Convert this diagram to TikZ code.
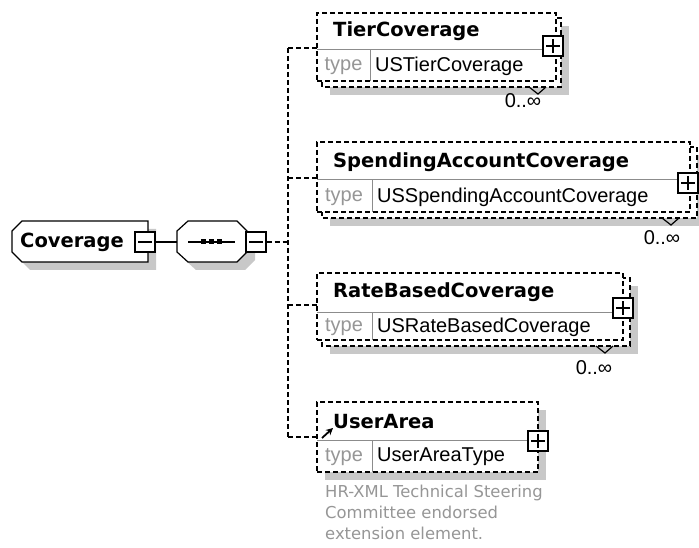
\documentclass[tikz,border=0pt]{standalone}
\usepackage{fontspec}
\setmainfont{DejaVu Sans}
\newfontfamily\arialf{Liberation Sans}
\usetikzlibrary{arrows.meta,calc}
\definecolor{shd}{RGB}{200,200,200}
\definecolor{txtg}{RGB}{150,150,150}
\definecolor{lng}{RGB}{140,140,140}
\begin{document}
\begin{tikzpicture}[x=1pt,y=-1pt,
  ebox/.style={draw=black, line width=1.2pt, dash pattern=on 5pt off 3pt, fill=white, inner sep=0pt, outer sep=0pt, anchor=north west},
  bbox/.style={draw=black, line width=1.2pt, dash pattern=on 5pt off 3pt, fill=white},
  solidbox/.style={draw=black, line width=1.2pt, fill=white},
  ttl/.style={anchor=west, font=\fontsize{19.5}{22}\selectfont\bfseries, inner sep=0pt},
  typel/.style={font=\arialf\fontsize{20}{22}\selectfont, text=txtg, inner sep=0pt},
  typev/.style={anchor=west, font=\arialf\fontsize{20}{22}\selectfont, inner sep=0pt},
  sepl/.style={draw=lng, line width=1pt},
  pm/.style={draw=black, line width=1.2pt, fill=white, minimum size=20pt, inner sep=0pt},
  pmline/.style={line width=1.2pt},
  occ/.style={font=\arialf\fontsize{20}{22}\selectfont, inner sep=0pt},
  conn/.style={line width=1.2pt, dash pattern=on 5pt off 3pt},
  sconn/.style={line width=1.2pt},
  chev/.style={line width=1.2pt},
]
\useasboundingbox (0,0) rectangle (699,548);

% ---------- Coverage element ----------
\fill[shd] (30,229) -- (156,229) -- (156,270) -- (30,270) -- (20,260) -- (20,239) -- cycle;
\draw[solidbox] (22,221) -- (148,221) -- (148,262) -- (22,262) -- (12,252) -- (12,231) -- cycle;
\node[ttl] (covT) at (20,242) {Coverage};
\node[pm] (covM) at (145,242) {};
\draw[pmline] ($(covM)+(-7,0)$) -- ($(covM)+(7,0)$);

% ---------- sequence compositor ----------
\fill[shd] (196,229) -- (245,229) -- (255,239) -- (255,260) -- (245,270) -- (196,270) -- (185,260) -- (185,239) -- cycle;
\draw[solidbox] (188,221) -- (237,221) -- (247,231) -- (247,252) -- (237,262) -- (188,262) -- (177,252) -- (177,231) -- cycle;
\coordinate (seqW) at (177,242);
\coordinate (seqA) at (188,242);
\coordinate (seqB) at (235,242);
\draw[sconn] (seqA) -- (seqB);
\foreach \xx in {203,211,219} \fill (\xx-2.5,239.5) rectangle (\xx+2.5,244.5);
\node[pm] (seqM) at (256,242) {};
\draw[pmline] ($(seqM)+(-7,0)$) -- ($(seqM)+(7,0)$);
\draw[sconn] (covM.east) -- (seqW);

% ---------- bus ----------
\coordinate (bus) at (288,242);
\coordinate (jT) at (288,48);
\coordinate (jS) at (288,178);
\coordinate (jR) at (288,305);
\coordinate (jU) at (288,437);
\draw[conn] (seqM.east) -- (bus);
\draw[conn] (jT) -- (jU);

% ---------- TierCoverage ----------
\fill[shd] (330,26) rectangle (569,95);
\draw[bbox] (322,18) rectangle (561,87);
\node[ebox, minimum width=239pt, minimum height=68pt] (tier) at (317,13) {};
\draw[sepl] (317,50) -- (556,50);
\draw[sepl] (370,50) -- (370,81);
\node[ttl] (tierT) at (333,31) {TierCoverage};
\node[typel] (tierL) at (343.5,66) {type};
\node[typev] (tierV) at (375,66) {USTierCoverage};
\node[pm] (tierP) at (553,46) {};
\draw[pmline] ($(tierP)+(-7,0)$) -- ($(tierP)+(7,0)$);
\draw[pmline] ($(tierP)+(0,-7)$) -- ($(tierP)+(0,7)$);
\draw[chev] (529,87) -- (538,94) -- (546,87);
\node[occ] (tierO) at (523,101) {0..∞};
\draw[conn] (jT) -- (jT -| tier.west);

% ---------- SpendingAccountCoverage ----------
\fill[shd] (330,155) rectangle (705,226);
\draw[bbox] (322,147) rectangle (697,218);
\node[ebox, minimum width=373pt, minimum height=70pt] (spend) at (317,142) {};
\draw[sepl] (317,180) -- (690,180);
\draw[sepl] (372,180) -- (372,212);
\node[ttl] (spendT) at (333,162) {SpendingAccountCoverage};
\node[typel] (spendL) at (344,197) {type};
\node[typev] (spendV) at (377,197) {USSpendingAccountCoverage};
\node[pm] (spendP) at (688,183) {};
\draw[pmline] ($(spendP)+(-7,0)$) -- ($(spendP)+(7,0)$);
\draw[pmline] ($(spendP)+(0,-7)$) -- ($(spendP)+(0,7)$);
\draw[chev] (662,218) -- (671,225) -- (679,218);
\node[occ] (spendO) at (662,238) {0..∞};
\draw[conn] (jS) -- (jS -| spend.west);

% ---------- RateBasedCoverage ----------
\fill[shd] (330,286) rectangle (638,354);
\draw[bbox] (322,278) rectangle (630,346);
\node[ebox, minimum width=306pt, minimum height=67pt] (rate) at (317,273) {};
\draw[sepl] (317,312) -- (623,312);
\draw[sepl] (372,312) -- (372,340);
\node[ttl] (rateT) at (333,292) {RateBasedCoverage};
\node[typel] (rateL) at (344,327) {type};
\node[typev] (rateV) at (377,327) {USRateBasedCoverage};
\node[pm] (rateP) at (623,308) {};
\draw[pmline] ($(rateP)+(-7,0)$) -- ($(rateP)+(7,0)$);
\draw[pmline] ($(rateP)+(0,-7)$) -- ($(rateP)+(0,7)$);
\draw[chev] (596,346) -- (605,353) -- (613,346);
\node[occ] (rateO) at (594,368) {0..∞};
\draw[conn] (jR) -- (jR -| rate.west);

% ---------- UserArea ----------
\fill[shd] (325,410) rectangle (546,480);
\node[ebox, minimum width=221pt, minimum height=70pt] (ua) at (317,402) {};
\draw[sepl] (317,440) -- (538,440);
\draw[sepl] (372,440) -- (372,472);
\node[ttl] (uaT) at (333,422) {UserArea};
\node[typel] (uaL) at (344,457) {type};
\node[typev] (uaV) at (377,457) {UserAreaType};
\node[pm] (uaP) at (538,441) {};
\draw[pmline] ($(uaP)+(-7,0)$) -- ($(uaP)+(7,0)$);
\draw[pmline] ($(uaP)+(0,-7)$) -- ($(uaP)+(0,7)$);
\draw[conn] (jU) -- (jU -| ua.west);
\coordinate (refA) at (322,438);
\coordinate (refB) at (333,428);
\draw[line width=1.8pt, -{Stealth[length=7pt,width=7pt]}] (refA) -- (refB);
\node[anchor=north west, inner sep=0pt, text=txtg, align=left,
      font=\fontsize{16.4}{21}\selectfont] (uaD) at (325,485)
  {HR-XML Technical Steering\\Committee endorsed\\extension element.};
\end{tikzpicture}
\end{document}
